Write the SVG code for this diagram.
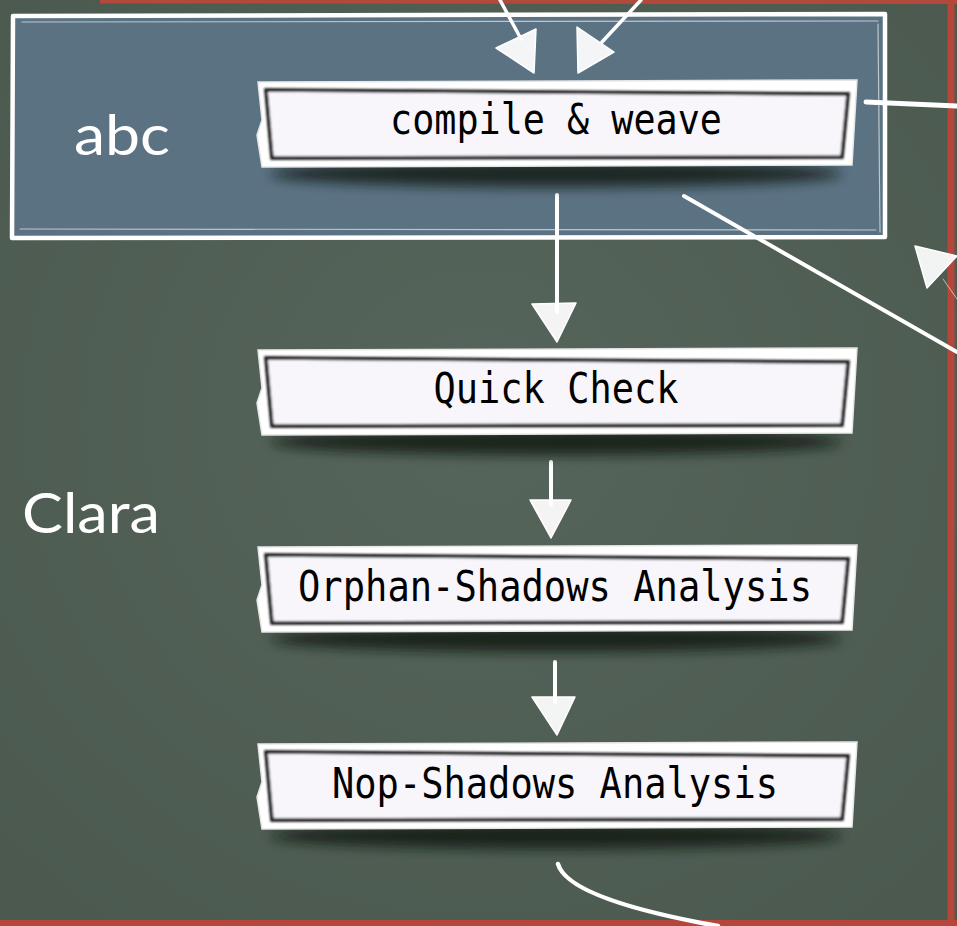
<svg xmlns="http://www.w3.org/2000/svg" width="957" height="926" viewBox="0 0 957 926">
<defs>
  <filter id="blur" x="-20%" y="-100%" width="140%" height="300%"><feGaussianBlur stdDeviation="6"/></filter>
  <filter id="soft" x="-5%" y="-20%" width="110%" height="140%"><feGaussianBlur stdDeviation="0.8"/></filter>
  <radialGradient id="board" cx="50%" cy="45%" r="70%">
    <stop offset="0" stop-color="#56655b"/>
    <stop offset="1" stop-color="#4b594f"/>
  </radialGradient>
</defs>
<style>
  .chalk{fill:none;stroke:#ffffff;stroke-linecap:round;stroke-linejoin:round}
  .head{fill:#ffffff;fill-opacity:0.93;stroke:#ffffff;stroke-width:1.5;stroke-linejoin:round}
  .outer{fill:#ffffff;stroke:#e6e6e6;stroke-width:1.5}
  .inner{fill:#f8f5fb;stroke:#161616;stroke-width:3.5}
  .shadow{fill:#0e1611;opacity:0.8}
  .lbl{font-family:"DejaVu Sans Mono","Liberation Mono",monospace;font-size:36px;fill:#000000;text-anchor:middle}
  .cl{font-family:"Lato","Noto Sans",sans-serif;font-size:56px;fill:#ffffff}
</style>
<rect x="0" y="0" width="957" height="926" fill="url(#board)"/>
<g id="frame">
  <path d="M100,1.5 L957,2" stroke="#b24a3c" stroke-width="4" fill="none"/>
  <path d="M951,0 L951,926" stroke="#b5473a" stroke-width="7" fill="none"/>
  <path d="M0,923 L957,923" stroke="#b5473a" stroke-width="6" fill="none"/>
</g>
<g id="cluster-abc">
  <rect x="13" y="15" width="872" height="222" fill="#5b7283"/>
  <path class="chalk" d="M13,16 L885,14 L885,237 L12,238 Z" stroke-width="4.5"/>
  <path class="chalk" d="M22,22 L878,21 M878,24 L880,232 M20,229 L876,230" stroke-width="1.2" opacity="0.6"/>
  <text class="cl" x="74" y="155" textLength="96" lengthAdjust="spacingAndGlyphs">abc</text>
</g>
<text class="cl" x="22" y="533" textLength="138" lengthAdjust="spacingAndGlyphs">Clara</text>
<g id="connectors">
  <path class="chalk" d="M500,0 L521,39" stroke-width="3.5"/>
  <polygon class="head" points="496,48 536,29 534,73"/>
  <path class="chalk" d="M641,0 L602,42" stroke-width="3.5"/>
  <polygon class="head" points="577,27 614,52 578,73"/>
  <path class="chalk" d="M557,195 L557,312" stroke-width="4"/>
  <polygon class="head" points="532,304 576,303 557,342"/>
  <path class="chalk" d="M551,462 L551,505" stroke-width="4"/>
  <polygon class="head" points="530,500 571,500 551,538"/>
  <path class="chalk" d="M555,662 L555,702" stroke-width="4"/>
  <polygon class="head" points="532,697 575,697 557,735"/>
  <path class="chalk" d="M866,102 L957,106" stroke-width="5"/>
  <path class="chalk" d="M684,196 L957,352" stroke-width="4"/>
  <polygon class="head" points="915,246 957,256 927,288"/>
  <path class="chalk" d="M943,279 L957,299" stroke-width="1" opacity="0.6"/>
  <path class="chalk" d="M558,864 C566,892 640,912 718,926" stroke-width="4.5"/>
</g>
<g id="node-compile">
  <ellipse class="shadow" cx="556" cy="174" rx="285" ry="13" filter="url(#blur)"/>
  <polygon class="outer" points="258,82 857,80 852,165 262,167 257,135 262,120"/>
  <polygon class="inner" points="266,90 848,94 842,157 272,158" filter="url(#soft)"/>
  <text class="lbl" transform="translate(556,134) scale(1,1.16)" textLength="332" lengthAdjust="spacingAndGlyphs">compile &amp; weave</text>
</g>
<g id="node-quick">
  <ellipse class="shadow" cx="556" cy="442" rx="285" ry="13" filter="url(#blur)"/>
  <polygon class="outer" points="258,350 857,348 852,433 262,435 257,403 262,388"/>
  <polygon class="inner" points="266,358 848,362 842,425 272,426" filter="url(#soft)"/>
  <text class="lbl" transform="translate(556,403) scale(1,1.16)" textLength="245" lengthAdjust="spacingAndGlyphs">Quick Check</text>
</g>
<g id="node-orphan">
  <ellipse class="shadow" cx="556" cy="639" rx="285" ry="13" filter="url(#blur)"/>
  <polygon class="outer" points="258,547 857,545 852,630 262,632 257,600 262,585"/>
  <polygon class="inner" points="266,555 848,559 842,622 272,623" filter="url(#soft)"/>
  <text class="lbl" transform="translate(555,601) scale(1,1.16)" textLength="514" lengthAdjust="spacingAndGlyphs">Orphan-Shadows Analysis</text>
</g>
<g id="node-nop">
  <ellipse class="shadow" cx="556" cy="836" rx="285" ry="13" filter="url(#blur)"/>
  <polygon class="outer" points="258,744 857,742 852,827 262,829 257,797 262,782"/>
  <polygon class="inner" points="266,752 848,756 842,819 272,820" filter="url(#soft)"/>
  <text class="lbl" transform="translate(555,798) scale(1,1.16)" textLength="446" lengthAdjust="spacingAndGlyphs">Nop-Shadows Analysis</text>
</g>
</svg>
